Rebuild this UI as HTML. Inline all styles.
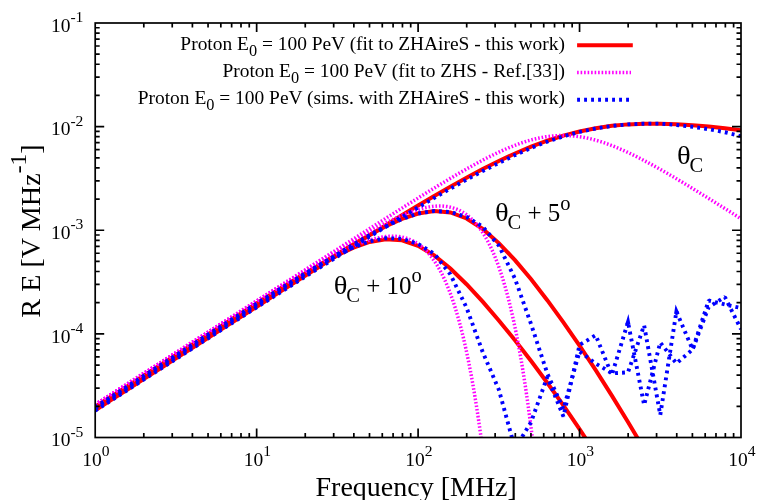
<!DOCTYPE html>
<html><head><meta charset="utf-8"><title>chart</title>
<style>html,body{margin:0;padding:0;background:#fff;}body{width:770px;height:500px;overflow:hidden;font-family:"Liberation Serif",serif;}svg{display:block;will-change:transform;}</style></head>
<body>
<svg width="770" height="500" viewBox="0 0 770 500">
<defs><clipPath id="c"><rect x="95.20" y="23.00" width="645.80" height="414.50"/></clipPath></defs>
<rect width="770" height="500" fill="#fff"/>
<g clip-path="url(#c)" fill="none" stroke-linejoin="miter" stroke-miterlimit="10" stroke-linecap="butt">
<g stroke="#f00" stroke-width="4">
<path d="M95.20 410.20 L111.34 399.84 L127.49 389.48 L143.63 379.12 L159.78 368.77 L175.93 358.41 L192.07 348.06 L208.21 337.71 L224.36 327.37 L240.50 317.03 L256.65 306.71 L272.80 296.39 L288.94 286.09 L305.08 275.82 L321.23 265.57 L337.38 255.36 L353.52 245.20 L369.66 235.10 L385.81 225.09 L401.95 215.20 L418.10 205.46 L434.25 195.91 L450.39 186.62 L466.53 177.64 L482.68 169.07 L498.82 160.99 L514.97 153.50 L531.12 146.72 L547.26 140.73 L563.40 135.62 L579.55 131.44 L595.70 128.19 L611.84 125.86 L627.99 124.38 L644.13 123.68 L660.27 123.65 L676.42 124.18 L692.57 125.18 L708.71 126.56 L724.86 128.24 L741.00 130.15"/>
<path d="M95.20 408.30 L111.34 397.94 L127.49 387.58 L143.63 377.22 L159.78 366.87 L175.93 356.51 L192.07 346.16 L208.21 335.82 L224.36 325.48 L240.50 315.15 L256.65 304.83 L272.80 294.54 L288.94 284.27 L305.08 274.06 L321.23 263.94 L337.38 253.96 L353.52 244.22 L369.66 234.90 L385.81 226.30 L401.95 218.92 L418.10 213.49 L434.25 211.01 L450.39 212.46 L466.53 218.45 L482.68 228.89 L498.82 243.08 L514.97 260.14 L531.12 279.33 L547.26 300.16 L563.40 322.34 L579.55 345.72 L595.70 370.17 L611.84 395.63 L627.99 421.98 L644.13 449.12 L660.27 470.00"/>
<path d="M95.20 406.80 L111.34 396.44 L127.49 386.08 L143.63 375.72 L159.78 365.37 L175.93 355.02 L192.07 344.67 L208.21 334.34 L224.36 324.01 L240.50 313.72 L256.65 303.46 L272.80 293.27 L288.94 283.21 L305.08 273.37 L321.23 263.93 L337.38 255.17 L353.52 247.60 L369.66 241.95 L385.81 239.18 L401.95 240.27 L418.10 245.74 L434.25 255.41 L450.39 268.54 L466.53 284.20 L482.68 301.66 L498.82 320.43 L514.97 340.26 L531.12 361.05 L547.26 382.77 L563.40 405.45 L579.55 429.09 L595.70 453.69 L611.84 470.00"/>
</g>
<g stroke="#f0f" stroke-width="3.5" stroke-dasharray="1.6 1.9">
<path d="M95.20 404.56 L96.81 403.53 L98.43 402.49 L100.04 401.45 L101.66 400.42 L103.27 399.38 L104.89 398.34 L106.50 397.31 L108.12 396.27 L109.73 395.24 L111.34 394.20 L112.96 393.16 L114.57 392.13 L116.19 391.09 L117.80 390.05 L119.42 389.02 L121.03 387.98 L122.65 386.95 L124.26 385.91 L125.88 384.87 L127.49 383.84 L129.10 382.80 L130.72 381.77 L132.33 380.73 L133.95 379.69 L135.56 378.66 L137.18 377.62 L138.79 376.58 L140.41 375.55 L142.02 374.51 L143.63 373.48 L145.25 372.44 L146.86 371.40 L148.48 370.37 L150.09 369.33 L151.71 368.29 L153.32 367.26 L154.94 366.22 L156.55 365.19 L158.17 364.15 L159.78 363.11 L161.39 362.08 L163.01 361.04 L164.62 360.00 L166.24 358.97 L167.85 357.93 L169.47 356.90 L171.08 355.86 L172.70 354.82 L174.31 353.79 L175.93 352.75 L177.54 351.71 L179.15 350.68 L180.77 349.64 L182.38 348.61 L184.00 347.57 L185.61 346.53 L187.23 345.50 L188.84 344.46 L190.46 343.42 L192.07 342.39 L193.68 341.35 L195.30 340.32 L196.91 339.28 L198.53 338.24 L200.14 337.21 L201.76 336.17 L203.37 335.14 L204.99 334.10 L206.60 333.06 L208.21 332.03 L209.83 330.99 L211.44 329.95 L213.06 328.92 L214.67 327.88 L216.29 326.85 L217.90 325.81 L219.52 324.77 L221.13 323.74 L222.75 322.70 L224.36 321.67 L225.97 320.63 L227.59 319.59 L229.20 318.56 L230.82 317.52 L232.43 316.48 L234.05 315.45 L235.66 314.41 L237.28 313.38 L238.89 312.34 L240.50 311.30 L242.12 310.27 L243.73 309.23 L245.35 308.20 L246.96 307.16 L248.58 306.12 L250.19 305.09 L251.81 304.05 L253.42 303.02 L255.04 301.98 L256.65 300.94 L258.26 299.91 L259.88 298.87 L261.49 297.84 L263.11 296.80 L264.72 295.77 L266.34 294.73 L267.95 293.69 L269.57 292.66 L271.18 291.62 L272.80 290.59 L274.41 289.55 L276.02 288.51 L277.64 287.48 L279.25 286.44 L280.87 285.41 L282.48 284.37 L284.10 283.34 L285.71 282.30 L287.33 281.27 L288.94 280.23 L290.55 279.20 L292.17 278.16 L293.78 277.12 L295.40 276.09 L297.01 275.05 L298.63 274.02 L300.24 272.98 L301.86 271.95 L303.47 270.91 L305.08 269.88 L306.70 268.84 L308.31 267.81 L309.93 266.77 L311.54 265.74 L313.16 264.70 L314.77 263.67 L316.39 262.64 L318.00 261.60 L319.62 260.57 L321.23 259.53 L322.84 258.50 L324.46 257.46 L326.07 256.43 L327.69 255.40 L329.30 254.36 L330.92 253.33 L332.53 252.30 L334.15 251.26 L335.76 250.23 L337.38 249.20 L338.99 248.16 L340.60 247.13 L342.22 246.10 L343.83 245.07 L345.45 244.03 L347.06 243.00 L348.68 241.97 L350.29 240.94 L351.91 239.91 L353.52 238.88 L355.13 237.85 L356.75 236.81 L358.36 235.78 L359.98 234.75 L361.59 233.72 L363.21 232.70 L364.82 231.67 L366.44 230.64 L368.05 229.61 L369.66 228.58 L371.28 227.55 L372.89 226.53 L374.51 225.50 L376.12 224.47 L377.74 223.45 L379.35 222.42 L380.97 221.40 L382.58 220.37 L384.20 219.35 L385.81 218.32 L387.42 217.30 L389.04 216.28 L390.65 215.26 L392.27 214.24 L393.88 213.22 L395.50 212.20 L397.11 211.18 L398.73 210.16 L400.34 209.14 L401.95 208.13 L403.57 207.11 L405.18 206.10 L406.80 205.08 L408.41 204.07 L410.03 203.06 L411.64 202.05 L413.26 201.04 L414.87 200.04 L416.49 199.03 L418.10 198.03 L419.71 197.02 L421.33 196.02 L422.94 195.02 L424.56 194.02 L426.17 193.03 L427.79 192.03 L429.40 191.04 L431.02 190.05 L432.63 189.06 L434.25 188.08 L435.86 187.09 L437.47 186.11 L439.09 185.13 L440.70 184.16 L442.32 183.18 L443.93 182.21 L445.55 181.24 L447.16 180.28 L448.78 179.32 L450.39 178.36 L452.00 177.41 L453.62 176.46 L455.23 175.51 L456.85 174.57 L458.46 173.63 L460.08 172.69 L461.69 171.76 L463.31 170.84 L464.92 169.92 L466.53 169.00 L468.15 168.09 L469.76 167.19 L471.38 166.29 L472.99 165.40 L474.61 164.52 L476.22 163.64 L477.84 162.76 L479.45 161.90 L481.07 161.04 L482.68 160.19 L484.29 159.35 L485.91 158.51 L487.52 157.69 L489.14 156.87 L490.75 156.07 L492.37 155.27 L493.98 154.48 L495.60 153.70 L497.21 152.94 L498.82 152.18 L500.44 151.43 L502.05 150.70 L503.67 149.98 L505.28 149.27 L506.90 148.58 L508.51 147.90 L510.13 147.23 L511.74 146.57 L513.36 145.93 L514.97 145.31 L516.58 144.70 L518.20 144.11 L519.81 143.53 L521.43 142.97 L523.04 142.42 L524.66 141.90 L526.27 141.39 L527.89 140.90 L529.50 140.43 L531.12 139.98 L532.73 139.55 L534.34 139.13 L535.96 138.74 L537.57 138.37 L539.19 138.02 L540.80 137.69 L542.42 137.38 L544.03 137.10 L545.65 136.83 L547.26 136.59 L548.87 136.37 L550.49 136.18 L552.10 136.01 L553.72 135.86 L555.33 135.73 L556.95 135.63 L558.56 135.55 L560.18 135.50 L561.79 135.47 L563.40 135.46 L565.02 135.47 L566.63 135.52 L568.25 135.58 L569.86 135.67 L571.48 135.78 L573.09 135.92 L574.71 136.07 L576.32 136.26 L577.94 136.46 L579.55 136.69 L581.16 136.94 L582.78 137.21 L584.39 137.51 L586.01 137.82 L587.62 138.16 L589.24 138.52 L590.85 138.90 L592.47 139.30 L594.08 139.72 L595.70 140.16 L597.31 140.62 L598.92 141.10 L600.54 141.60 L602.15 142.11 L603.77 142.65 L605.38 143.20 L607.00 143.76 L608.61 144.35 L610.23 144.95 L611.84 145.56 L613.45 146.19 L615.07 146.84 L616.68 147.50 L618.30 148.17 L619.91 148.86 L621.53 149.56 L623.14 150.28 L624.76 151.00 L626.37 151.74 L627.99 152.49 L629.60 153.25 L631.21 154.02 L632.83 154.80 L634.44 155.60 L636.06 156.40 L637.67 157.21 L639.29 158.03 L640.90 158.86 L642.52 159.69 L644.13 160.54 L645.74 161.39 L647.36 162.25 L648.97 163.12 L650.59 164.00 L652.20 164.88 L653.82 165.77 L655.43 166.66 L657.05 167.56 L658.66 168.47 L660.27 169.38 L661.89 170.30 L663.50 171.22 L665.12 172.15 L666.73 173.08 L668.35 174.01 L669.96 174.95 L671.58 175.90 L673.19 176.85 L674.81 177.80 L676.42 178.75 L678.03 179.71 L679.65 180.68 L681.26 181.64 L682.88 182.61 L684.49 183.58 L686.11 184.56 L687.72 185.54 L689.34 186.52 L690.95 187.50 L692.57 188.48 L694.18 189.47 L695.79 190.46 L697.41 191.45 L699.02 192.44 L700.64 193.44 L702.25 194.44 L703.87 195.43 L705.48 196.43 L707.10 197.44 L708.71 198.44 L710.32 199.45 L711.94 200.45 L713.55 201.46 L715.17 202.47 L716.78 203.48 L718.40 204.49 L720.01 205.50 L721.63 206.52 L723.24 207.53 L724.86 208.55 L726.47 209.56 L728.08 210.58 L729.70 211.60 L731.31 212.62 L732.93 213.64 L734.54 214.66 L736.16 215.68 L737.77 216.70 L739.39 217.72 L741.00 218.74"/>
<path d="M95.20 404.56 L96.81 403.53 L98.43 402.49 L100.04 401.45 L101.66 400.42 L103.27 399.38 L104.89 398.35 L106.50 397.31 L108.12 396.27 L109.73 395.24 L111.34 394.20 L112.96 393.17 L114.57 392.13 L116.19 391.09 L117.80 390.06 L119.42 389.02 L121.03 387.98 L122.65 386.95 L124.26 385.91 L125.88 384.88 L127.49 383.84 L129.10 382.80 L130.72 381.77 L132.33 380.73 L133.95 379.70 L135.56 378.66 L137.18 377.62 L138.79 376.59 L140.41 375.55 L142.02 374.52 L143.63 373.48 L145.25 372.44 L146.86 371.41 L148.48 370.37 L150.09 369.34 L151.71 368.30 L153.32 367.26 L154.94 366.23 L156.55 365.19 L158.17 364.16 L159.78 363.12 L161.39 362.08 L163.01 361.05 L164.62 360.01 L166.24 358.98 L167.85 357.94 L169.47 356.90 L171.08 355.87 L172.70 354.83 L174.31 353.80 L175.93 352.76 L177.54 351.73 L179.15 350.69 L180.77 349.66 L182.38 348.62 L184.00 347.58 L185.61 346.55 L187.23 345.51 L188.84 344.48 L190.46 343.44 L192.07 342.41 L193.68 341.37 L195.30 340.34 L196.91 339.30 L198.53 338.27 L200.14 337.23 L201.76 336.20 L203.37 335.16 L204.99 334.13 L206.60 333.09 L208.21 332.06 L209.83 331.02 L211.44 329.99 L213.06 328.95 L214.67 327.92 L216.29 326.88 L217.90 325.85 L219.52 324.81 L221.13 323.78 L222.75 322.74 L224.36 321.71 L225.97 320.68 L227.59 319.64 L229.20 318.61 L230.82 317.58 L232.43 316.54 L234.05 315.51 L235.66 314.48 L237.28 313.44 L238.89 312.41 L240.50 311.38 L242.12 310.34 L243.73 309.31 L245.35 308.28 L246.96 307.25 L248.58 306.22 L250.19 305.18 L251.81 304.15 L253.42 303.12 L255.04 302.09 L256.65 301.06 L258.26 300.03 L259.88 299.00 L261.49 297.97 L263.11 296.94 L264.72 295.91 L266.34 294.88 L267.95 293.85 L269.57 292.82 L271.18 291.80 L272.80 290.77 L274.41 289.74 L276.02 288.71 L277.64 287.69 L279.25 286.66 L280.87 285.64 L282.48 284.61 L284.10 283.59 L285.71 282.56 L287.33 281.54 L288.94 280.52 L290.55 279.50 L292.17 278.48 L293.78 277.46 L295.40 276.44 L297.01 275.42 L298.63 274.40 L300.24 273.38 L301.86 272.37 L303.47 271.35 L305.08 270.34 L306.70 269.32 L308.31 268.31 L309.93 267.30 L311.54 266.29 L313.16 265.28 L314.77 264.27 L316.39 263.27 L318.00 262.26 L319.62 261.26 L321.23 260.26 L322.84 259.26 L324.46 258.26 L326.07 257.26 L327.69 256.27 L329.30 255.27 L330.92 254.28 L332.53 253.30 L334.15 252.31 L335.76 251.33 L337.38 250.34 L338.99 249.37 L340.60 248.39 L342.22 247.42 L343.83 246.45 L345.45 245.48 L347.06 244.51 L348.68 243.55 L350.29 242.60 L351.91 241.64 L353.52 240.70 L355.13 239.75 L356.75 238.81 L358.36 237.87 L359.98 236.94 L361.59 236.01 L363.21 235.09 L364.82 234.18 L366.44 233.27 L368.05 232.36 L369.66 231.46 L371.28 230.57 L372.89 229.69 L374.51 228.81 L376.12 227.94 L377.74 227.07 L379.35 226.22 L380.97 225.37 L382.58 224.54 L384.20 223.71 L385.81 222.89 L387.42 222.08 L389.04 221.29 L390.65 220.50 L392.27 219.73 L393.88 218.97 L395.50 218.22 L397.11 217.48 L398.73 216.76 L400.34 216.06 L401.95 215.37 L403.57 214.69 L405.18 214.04 L406.80 213.40 L408.41 212.78 L410.03 212.18 L411.64 211.60 L413.26 211.04 L414.87 210.50 L416.49 209.99 L418.10 209.50 L419.71 209.04 L421.33 208.61 L422.94 208.20 L424.56 207.82 L426.17 207.48 L427.79 207.16 L429.40 206.88 L431.02 206.64 L432.63 206.43 L434.25 206.26 L435.86 206.14 L437.47 206.05 L439.09 206.02 L440.70 206.02 L442.32 206.08 L443.93 206.19 L445.55 206.35 L447.16 206.57 L448.78 206.85 L450.39 207.19 L452.00 207.59 L453.62 208.06 L455.23 208.61 L456.85 209.22 L458.46 209.92 L460.08 210.69 L461.69 211.55 L463.31 212.51 L464.92 213.55 L466.53 214.69 L468.15 215.93 L469.76 217.28 L471.38 218.75 L472.99 220.33 L474.61 222.03 L476.22 223.86 L477.84 225.83 L479.45 227.94 L481.07 230.19 L482.68 232.60 L484.29 235.17 L485.91 237.91 L487.52 240.83 L489.14 243.93 L490.75 247.22 L492.37 250.72 L493.98 254.43 L495.60 258.36 L497.21 262.53 L498.82 266.94 L500.44 271.60 L502.05 276.53 L503.67 281.74 L505.28 287.24 L506.90 293.05 L508.51 299.18 L510.13 305.64 L511.74 312.45 L513.36 319.63 L514.97 327.19 L516.58 335.15 L518.20 343.54 L519.81 352.36 L521.43 361.64 L523.04 371.40 L524.66 381.67 L526.27 392.46 L527.89 403.80 L529.50 415.72 L531.12 428.24 L532.73 441.39 L534.34 455.21 L535.96 469.71 L537.57 470.00"/>
<path d="M95.20 404.57 L96.81 403.53 L98.43 402.49 L100.04 401.46 L101.66 400.42 L103.27 399.39 L104.89 398.35 L106.50 397.32 L108.12 396.28 L109.73 395.24 L111.34 394.21 L112.96 393.17 L114.57 392.14 L116.19 391.10 L117.80 390.06 L119.42 389.03 L121.03 387.99 L122.65 386.96 L124.26 385.92 L125.88 384.88 L127.49 383.85 L129.10 382.81 L130.72 381.78 L132.33 380.74 L133.95 379.71 L135.56 378.67 L137.18 377.64 L138.79 376.60 L140.41 375.56 L142.02 374.53 L143.63 373.49 L145.25 372.46 L146.86 371.42 L148.48 370.39 L150.09 369.35 L151.71 368.32 L153.32 367.28 L154.94 366.25 L156.55 365.21 L158.17 364.18 L159.78 363.14 L161.39 362.11 L163.01 361.07 L164.62 360.04 L166.24 359.00 L167.85 357.97 L169.47 356.93 L171.08 355.90 L172.70 354.86 L174.31 353.83 L175.93 352.80 L177.54 351.76 L179.15 350.73 L180.77 349.69 L182.38 348.66 L184.00 347.63 L185.61 346.59 L187.23 345.56 L188.84 344.53 L190.46 343.49 L192.07 342.46 L193.68 341.43 L195.30 340.40 L196.91 339.36 L198.53 338.33 L200.14 337.30 L201.76 336.27 L203.37 335.24 L204.99 334.20 L206.60 333.17 L208.21 332.14 L209.83 331.11 L211.44 330.08 L213.06 329.05 L214.67 328.02 L216.29 326.99 L217.90 325.96 L219.52 324.93 L221.13 323.90 L222.75 322.88 L224.36 321.85 L225.97 320.82 L227.59 319.79 L229.20 318.77 L230.82 317.74 L232.43 316.71 L234.05 315.69 L235.66 314.66 L237.28 313.64 L238.89 312.62 L240.50 311.59 L242.12 310.57 L243.73 309.55 L245.35 308.53 L246.96 307.51 L248.58 306.49 L250.19 305.47 L251.81 304.45 L253.42 303.44 L255.04 302.42 L256.65 301.40 L258.26 300.39 L259.88 299.38 L261.49 298.36 L263.11 297.35 L264.72 296.34 L266.34 295.33 L267.95 294.33 L269.57 293.32 L271.18 292.32 L272.80 291.31 L274.41 290.31 L276.02 289.31 L277.64 288.31 L279.25 287.32 L280.87 286.32 L282.48 285.33 L284.10 284.34 L285.71 283.35 L287.33 282.37 L288.94 281.38 L290.55 280.40 L292.17 279.42 L293.78 278.45 L295.40 277.48 L297.01 276.51 L298.63 275.54 L300.24 274.58 L301.86 273.62 L303.47 272.66 L305.08 271.71 L306.70 270.76 L308.31 269.81 L309.93 268.87 L311.54 267.94 L313.16 267.01 L314.77 266.08 L316.39 265.16 L318.00 264.24 L319.62 263.33 L321.23 262.43 L322.84 261.53 L324.46 260.64 L326.07 259.76 L327.69 258.88 L329.30 258.01 L330.92 257.15 L332.53 256.29 L334.15 255.45 L335.76 254.61 L337.38 253.79 L338.99 252.97 L340.60 252.16 L342.22 251.37 L343.83 250.59 L345.45 249.81 L347.06 249.05 L348.68 248.31 L350.29 247.57 L351.91 246.86 L353.52 246.15 L355.13 245.46 L356.75 244.79 L358.36 244.14 L359.98 243.50 L361.59 242.88 L363.21 242.29 L364.82 241.71 L366.44 241.15 L368.05 240.62 L369.66 240.11 L371.28 239.63 L372.89 239.17 L374.51 238.74 L376.12 238.33 L377.74 237.96 L379.35 237.62 L380.97 237.31 L382.58 237.04 L384.20 236.80 L385.81 236.60 L387.42 236.44 L389.04 236.32 L390.65 236.24 L392.27 236.21 L393.88 236.22 L395.50 236.29 L397.11 236.40 L398.73 236.57 L400.34 236.80 L401.95 237.09 L403.57 237.44 L405.18 237.86 L406.80 238.34 L408.41 238.89 L410.03 239.52 L411.64 240.23 L413.26 241.02 L414.87 241.90 L416.49 242.87 L418.10 243.93 L419.71 245.09 L421.33 246.36 L422.94 247.73 L424.56 249.21 L426.17 250.82 L427.79 252.55 L429.40 254.41 L431.02 256.40 L432.63 258.54 L434.25 260.83 L435.86 263.27 L437.47 265.88 L439.09 268.66 L440.70 271.62 L442.32 274.77 L443.93 278.12 L445.55 281.67 L447.16 285.44 L448.78 289.43 L450.39 293.67 L452.00 298.15 L453.62 302.89 L455.23 307.90 L456.85 313.19 L458.46 318.79 L460.08 324.70 L461.69 330.93 L463.31 337.51 L464.92 344.44 L466.53 351.75 L468.15 359.45 L469.76 367.57 L471.38 376.11 L472.99 385.11 L474.61 394.58 L476.22 404.54 L477.84 415.02 L479.45 426.05 L481.07 437.64 L482.68 449.82 L484.29 462.63 L485.91 470.00"/>
</g>
<g stroke="#00f" stroke-width="3.9" stroke-dasharray="2.9 4.1" stroke-linejoin="bevel">
<path d="M95.20 410.70 L111.34 400.35 L127.49 390.00 L143.63 379.65 L159.78 369.31 L175.93 358.96 L192.07 348.62 L208.21 338.28 L224.36 327.95 L240.50 317.62 L256.65 307.31 L272.80 297.11 L288.94 286.93 L305.08 276.78 L321.23 266.65 L337.38 256.56 L353.52 246.56 L369.66 236.62 L385.81 226.77 L401.95 217.04 L418.10 207.46 L434.25 197.91 L450.39 188.62 L466.53 179.64 L482.68 171.07 L498.82 162.99 L514.97 155.10 L531.12 147.92 L547.26 141.63 L563.40 136.32 L579.55 131.94 L595.70 128.49 L611.84 125.96 L627.99 124.38 L644.13 123.68 L660.27 123.65 L676.42 124.98 L692.57 126.78 L708.71 129.23 L724.86 132.24 L741.00 136.15"/>
<path d="M95.20 408.70 L111.34 398.33 L127.49 387.97 L143.63 377.60 L159.78 367.24 L175.93 356.88 L192.07 346.52 L208.21 336.17 L224.36 325.82 L240.50 315.49 L256.65 305.16 L272.80 294.86 L288.94 284.59 L305.08 274.38 L321.23 264.25 L337.38 254.26 L353.52 244.46 L369.66 235.08 L385.81 226.42 L401.95 218.98 L418.10 213.49 L434.25 211.01 L450.39 211.96 L466.53 216.95 L482.68 226.69 L498.82 245.50 L514.97 278.60 L531.12 324.30 L547.26 373.40 L563.40 409.00 L579.55 351.50 L595.70 363.50 L611.84 373.30 L627.99 372.40 L644.13 325.30 L660.27 415.00 L676.42 311.50 L692.57 349.50 L708.71 307.00 L724.86 297.00 L741.00 329.20"/>
<path d="M95.20 407.10 L111.34 396.72 L127.49 386.34 L143.63 375.96 L159.78 365.59 L175.93 355.22 L192.07 344.85 L208.21 334.50 L224.36 324.15 L240.50 313.84 L256.65 303.56 L272.80 293.35 L288.94 283.27 L305.08 273.41 L321.23 263.95 L337.38 255.17 L353.52 247.35 L369.66 241.45 L385.81 238.18 L401.95 238.77 L418.10 243.94 L434.25 253.71 L450.39 274.40 L466.53 307.60 L482.68 352.00 L498.82 389.60 L514.97 448.60 L531.12 421.90 L547.26 377.00 L563.40 416.50 L579.55 345.00 L595.70 335.20 L611.84 375.00 L627.99 322.00 L644.13 405.00 L660.27 342.50 L676.42 363.40 L692.57 349.50 L708.71 300.50 L724.86 304.50 L741.00 308.00"/>
</g>
<g stroke="#00f" stroke-width="3.9" stroke-linejoin="miter" stroke-miterlimit="20">
<path d="M627.23 324.49 L627.99 322.00 L628.48 324.55"/>
<path d="M676.02 314.07 L676.42 311.50 L677.44 313.89"/>
</g>
</g>
<g fill="none">
<path d="M577.1 45.2 H632.8" stroke="#f00" stroke-width="4"/>
<path d="M577.1 72.4 H631" stroke="#f0f" stroke-width="3.5" stroke-dasharray="1.6 1.9"/>
<path d="M577.1 99.8 H632.8" stroke="#00f" stroke-width="3.9" stroke-dasharray="2.9 4.1"/>
</g>
<g fill="none" stroke="#000" stroke-width="1.7" stroke-linecap="butt">
<path d="M143.80 437.50 v-4.50 M143.80 23.00 v4.50 M172.23 437.50 v-4.50 M172.23 23.00 v4.50 M192.40 437.50 v-4.50 M192.40 23.00 v4.50 M208.05 437.50 v-4.50 M208.05 23.00 v4.50 M220.83 437.50 v-4.50 M220.83 23.00 v4.50 M231.64 437.50 v-4.50 M231.64 23.00 v4.50 M241.00 437.50 v-4.50 M241.00 23.00 v4.50 M249.26 437.50 v-4.50 M249.26 23.00 v4.50 M256.65 437.50 v-9.00 M256.65 23.00 v9.00 M305.25 437.50 v-4.50 M305.25 23.00 v4.50 M333.68 437.50 v-4.50 M333.68 23.00 v4.50 M353.85 437.50 v-4.50 M353.85 23.00 v4.50 M369.50 437.50 v-4.50 M369.50 23.00 v4.50 M382.28 437.50 v-4.50 M382.28 23.00 v4.50 M393.09 437.50 v-4.50 M393.09 23.00 v4.50 M402.45 437.50 v-4.50 M402.45 23.00 v4.50 M410.71 437.50 v-4.50 M410.71 23.00 v4.50 M418.10 437.50 v-9.00 M418.10 23.00 v9.00 M466.70 437.50 v-4.50 M466.70 23.00 v4.50 M495.13 437.50 v-4.50 M495.13 23.00 v4.50 M515.30 437.50 v-4.50 M515.30 23.00 v4.50 M530.95 437.50 v-4.50 M530.95 23.00 v4.50 M543.73 437.50 v-4.50 M543.73 23.00 v4.50 M554.54 437.50 v-4.50 M554.54 23.00 v4.50 M563.90 437.50 v-4.50 M563.90 23.00 v4.50 M572.16 437.50 v-4.50 M572.16 23.00 v4.50 M579.55 437.50 v-9.00 M579.55 23.00 v9.00 M628.15 437.50 v-4.50 M628.15 23.00 v4.50 M656.58 437.50 v-4.50 M656.58 23.00 v4.50 M676.75 437.50 v-4.50 M676.75 23.00 v4.50 M692.40 437.50 v-4.50 M692.40 23.00 v4.50 M705.18 437.50 v-4.50 M705.18 23.00 v4.50 M715.99 437.50 v-4.50 M715.99 23.00 v4.50 M725.35 437.50 v-4.50 M725.35 23.00 v4.50 M733.61 437.50 v-4.50 M733.61 23.00 v4.50 M95.20 95.43 h4.50 M741.00 95.43 h-4.50 M95.20 77.18 h4.50 M741.00 77.18 h-4.50 M95.20 64.24 h4.50 M741.00 64.24 h-4.50 M95.20 54.19 h4.50 M741.00 54.19 h-4.50 M95.20 45.99 h4.50 M741.00 45.99 h-4.50 M95.20 39.05 h4.50 M741.00 39.05 h-4.50 M95.20 33.04 h4.50 M741.00 33.04 h-4.50 M95.20 27.74 h4.50 M741.00 27.74 h-4.50 M95.20 126.62 h9.00 M741.00 126.62 h-9.00 M95.20 199.06 h4.50 M741.00 199.06 h-4.50 M95.20 180.81 h4.50 M741.00 180.81 h-4.50 M95.20 167.86 h4.50 M741.00 167.86 h-4.50 M95.20 157.82 h4.50 M741.00 157.82 h-4.50 M95.20 149.61 h4.50 M741.00 149.61 h-4.50 M95.20 142.68 h4.50 M741.00 142.68 h-4.50 M95.20 136.67 h4.50 M741.00 136.67 h-4.50 M95.20 131.37 h4.50 M741.00 131.37 h-4.50 M95.20 230.25 h9.00 M741.00 230.25 h-9.00 M95.20 302.68 h4.50 M741.00 302.68 h-4.50 M95.20 284.43 h4.50 M741.00 284.43 h-4.50 M95.20 271.49 h4.50 M741.00 271.49 h-4.50 M95.20 261.44 h4.50 M741.00 261.44 h-4.50 M95.20 253.24 h4.50 M741.00 253.24 h-4.50 M95.20 246.30 h4.50 M741.00 246.30 h-4.50 M95.20 240.29 h4.50 M741.00 240.29 h-4.50 M95.20 234.99 h4.50 M741.00 234.99 h-4.50 M95.20 333.88 h9.00 M741.00 333.88 h-9.00 M95.20 406.31 h4.50 M741.00 406.31 h-4.50 M95.20 388.06 h4.50 M741.00 388.06 h-4.50 M95.20 375.11 h4.50 M741.00 375.11 h-4.50 M95.20 365.07 h4.50 M741.00 365.07 h-4.50 M95.20 356.86 h4.50 M741.00 356.86 h-4.50 M95.20 349.93 h4.50 M741.00 349.93 h-4.50 M95.20 343.92 h4.50 M741.00 343.92 h-4.50 M95.20 338.62 h4.50 M741.00 338.62 h-4.50"/>
<rect x="95.20" y="23.00" width="645.80" height="414.50" stroke-linejoin="miter"/>
</g>
<g font-family="'Liberation Serif', serif" fill="#000">
<text x="83.40" y="31.80" text-anchor="end" font-size="19.5">10<tspan dy="-9.6" font-size="15.6">-1</tspan></text>
<text x="83.40" y="135.43" text-anchor="end" font-size="19.5">10<tspan dy="-9.6" font-size="15.6">-2</tspan></text>
<text x="83.40" y="239.05" text-anchor="end" font-size="19.5">10<tspan dy="-9.6" font-size="15.6">-3</tspan></text>
<text x="83.40" y="342.68" text-anchor="end" font-size="19.5">10<tspan dy="-9.6" font-size="15.6">-4</tspan></text>
<text x="83.40" y="446.30" text-anchor="end" font-size="19.5">10<tspan dy="-9.6" font-size="15.6">-5</tspan></text>
<text x="96.00" y="465.60" text-anchor="middle" font-size="19.5">10<tspan dy="-9.6" font-size="15.6">0</tspan></text>
<text x="257.45" y="465.60" text-anchor="middle" font-size="19.5">10<tspan dy="-9.6" font-size="15.6">1</tspan></text>
<text x="418.90" y="465.60" text-anchor="middle" font-size="19.5">10<tspan dy="-9.6" font-size="15.6">2</tspan></text>
<text x="580.35" y="465.60" text-anchor="middle" font-size="19.5">10<tspan dy="-9.6" font-size="15.6">3</tspan></text>
<text x="741.80" y="465.60" text-anchor="middle" font-size="19.5">10<tspan dy="-9.6" font-size="15.6">4</tspan></text>
<text x="564.9" y="49.90" text-anchor="end" font-size="19.43">Proton E<tspan dy="6.1" font-size="16.32">0</tspan><tspan dy="-6.1"> = 100 PeV (fit to ZHAireS - this work)</tspan></text>
<text x="564.9" y="77.00" text-anchor="end" font-size="19.43">Proton E<tspan dy="6.1" font-size="16.32">0</tspan><tspan dy="-6.1"> = 100 PeV (fit to ZHS - Ref.[33])</tspan></text>
<text x="564.9" y="104.10" text-anchor="end" font-size="19.43">Proton E<tspan dy="6.1" font-size="16.32">0</tspan><tspan dy="-6.1"> = 100 PeV (sims. with ZHAireS - this work)</tspan></text>
<text x="416.2" y="495.9" text-anchor="middle" font-size="28.0">Frequency [MHz]</text>
<text transform="translate(40.3 231.0) rotate(-90)" text-anchor="middle" font-size="28.20" word-spacing="0">R E [V MHz<tspan dy="-14.6" font-size="23.52">-1</tspan><tspan dy="14.6">]</tspan></text>
<text transform="translate(676.90 164.40) scale(1.14 1)" font-size="25.0">θ</text><text x="689.50" y="164.40" font-size="25.0"><tspan dy="7.9" font-size="20.50">C</tspan></text>
<text transform="translate(494.90 221.00) scale(1.14 1)" font-size="25.0">θ</text><text x="507.50" y="221.00" font-size="25.0"><tspan dy="7.9" font-size="20.50">C</tspan><tspan dy="-7.9"> + 5</tspan><tspan dy="-11.4" font-size="20.50">o</tspan></text>
<text transform="translate(333.70 293.60) scale(1.14 1)" font-size="25.0">θ</text><text x="346.30" y="293.60" font-size="25.0"><tspan dy="7.9" font-size="20.50">C</tspan><tspan dy="-7.9"> + 10</tspan><tspan dy="-11.4" font-size="20.50">o</tspan></text>
</g>
</svg>
</body></html>
